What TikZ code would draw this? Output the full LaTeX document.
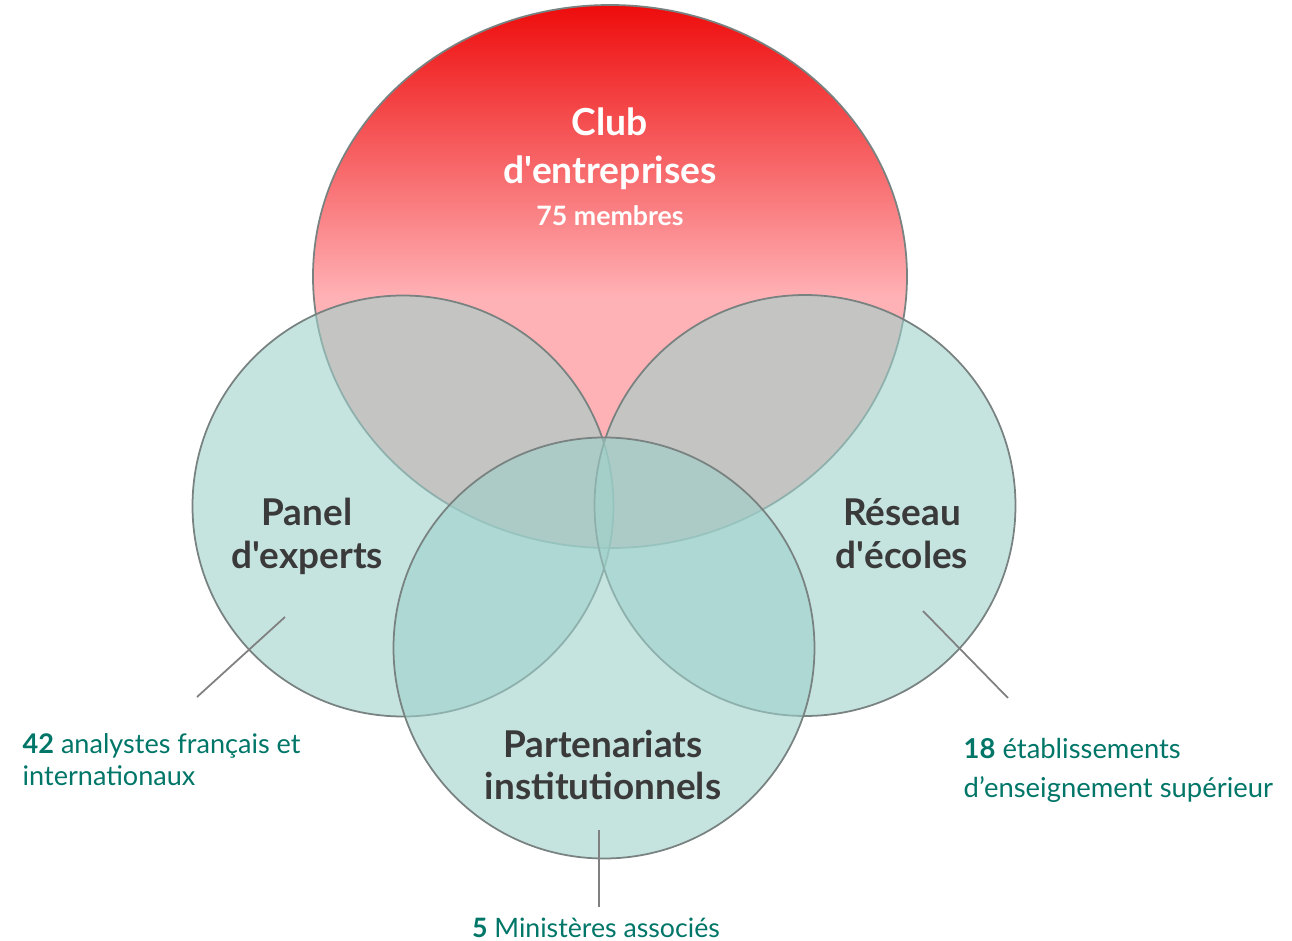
\documentclass[tikz,border=0pt]{standalone}
\usepackage{fontspec}
\setmainfont{Lato}
\usepackage{tikz}
\usetikzlibrary{shapes.geometric,positioning}
\definecolor{clubred}{RGB}{238,12,12}
\definecolor{clubpink}{RGB}{255,178,182}
\definecolor{tealfill}{RGB}{158,208,202}
\definecolor{tealtext}{RGB}{0,118,104}
\definecolor{darktext}{RGB}{58,58,58}
\definecolor{rimgrey}{RGB}{120,130,128}
\pgfdeclareverticalshading{clubshade}{100bp}{color(0bp)=(clubpink); color(48bp)=(clubpink); color(75bp)=(clubred); color(100bp)=(clubred)}

\begin{document}
\begin{tikzpicture}[x=1cm,y=1cm,
  rim/.style={draw=rimgrey,line width=0.5pt},
  setcircle/.style={rim,circle,fill=tealfill,fill opacity=0.6,minimum size=4.21cm,inner sep=0pt},
  title/.style={text=darktext,font=\bfseries\fontsize{10.5}{12.2}\selectfont,align=center,inner sep=0pt},
  note/.style={text=tealtext,font=\fontsize{7.7}{9}\selectfont,align=left,inner sep=0pt},
  lead/.style={draw=gray,line width=0.5pt}]
\useasboundingbox (0,0) rectangle (12.92,9.40);
% the four sets
\node[rim,ellipse,minimum width=5.94cm,minimum height=5.43cm,inner sep=0pt,shading=clubshade] (club) at (6.10,6.635) {};
\node[setcircle] (panel) at (4.03,4.34) {};
\node[setcircle] (reseau) at (8.05,4.345) {};
\node[setcircle] (partner) at (6.04,2.92) {};
% titles
\node[title,text=white,font=\bfseries\fontsize{10.6}{13.6}\selectfont] (clubtxt) at (6.10,7.91) {Club\\d\textquotesingle entreprises};
\node[title,text=white,font=\bfseries\fontsize{7.6}{9}\selectfont,below=4pt of clubtxt] (clubnb) {75 membres};
\node[title] (paneltxt) at (3.07,4.035) {Panel\\d\textquotesingle experts};
\node[title] (reseautxt) at (9.02,4.06) {Réseau\\d\textquotesingle écoles};
\node[title] (partnertxt) at (6.03,1.75) {Partenariats\\institutionnels};
% figures
\coordinate (panelpin) at (2.85,3.23);
\coordinate (reseaupin) at (9.23,3.29);
\coordinate (partnerpin) at (5.99,1.10);
\node[note,anchor=north west] (panelnote) at (0.22,2.07) {\textbf{42} analystes français et\\internationaux};
\node[note,anchor=north west,font=\fontsize{7.8}{11}\selectfont] (reseaunote) at (9.63,2.02) {\textbf{18} établissements\\d’enseignement supérieur};
\node[note,anchor=north,font=\fontsize{7.6}{9}\selectfont] (partnernote) at (5.96,0.23) {\textbf{5} Ministères associés};
\draw[lead] (panelpin) -- (1.97,2.43);
\draw[lead] (reseaupin) -- (10.08,2.42);
\draw[lead] (partnerpin) -- (partnerpin |- 0.33,0.33);
\end{tikzpicture}
\end{document}
